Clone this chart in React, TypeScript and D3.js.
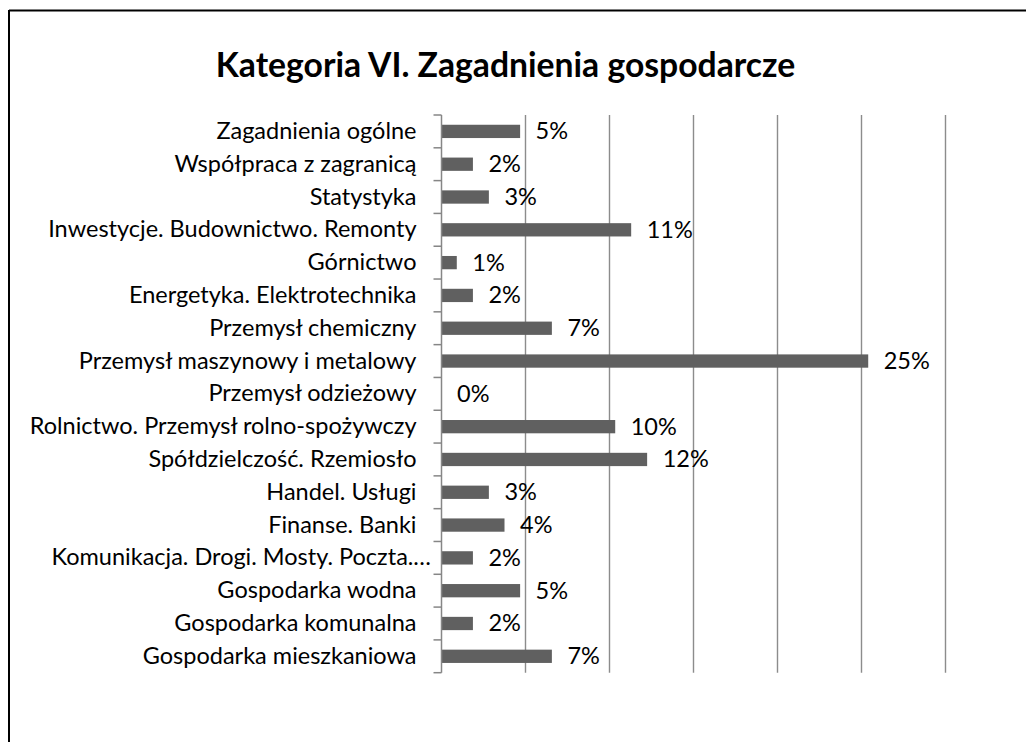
import React from "react";
import * as d3 from "d3";

const title = "Kategoria VI. Zagadnienia gospodarcze";

const categories = [
  "Zagadnienia ogólne",
  "Współpraca z zagranicą",
  "Statystyka",
  "Inwestycje. Budownictwo. Remonty",
  "Górnictwo",
  "Energetyka. Elektrotechnika",
  "Przemysł chemiczny",
  "Przemysł maszynowy i metalowy",
  "Przemysł odzieżowy",
  "Rolnictwo. Przemysł rolno-spożywczy",
  "Spółdzielczość. Rzemiosło",
  "Handel. Usługi",
  "Finanse. Banki",
  "Komunikacja. Drogi. Mosty. Poczta.…",
  "Gospodarka wodna",
  "Gospodarka komunalna",
  "Gospodarka mieszkaniowa",
];

const values = [
  0.0468, 0.0187, 0.0282, 0.1129, 0.0091, 0.0187, 0.0657, 0.254, 0,
  0.1034, 0.1224, 0.0282, 0.0375, 0.0187, 0.0468, 0.0187, 0.0657,
];

const xTicks = [0, 0.05, 0.1, 0.15, 0.2, 0.25, 0.3];

const W = 1026;
const H = 742;
const FONT = "Lato, 'Open Sans', sans-serif";

export default function App() {
  const x = d3.scaleLinear().domain([0, 0.3]).range([441.5, 945.5]);
  const y = d3.scaleBand<string>().domain(categories).range([115, 672.7]).padding(0);
  const bw = y.bandwidth();
  const barH = bw * 0.405;
  const fmt = d3.format(".0%");
  const boundaries = d3.range(categories.length + 1).map((i) => 115 + i * y.step());

  return (
    <svg
      width={W}
      height={H}
      style={{ position: "absolute", left: 0, top: 0, display: "block", background: "#fff" }}
    >
      <rect x={0} y={0} width={W} height={H} fill="#fff" />
      {/* chart frame */}
      <line x1={9} y1={10.5} x2={W + 5} y2={10.5} stroke="#000" strokeWidth={2} />
      <line x1={9} y1={10} x2={9} y2={H + 5} stroke="#000" strokeWidth={2} />

      <text
        x={505.5}
        y={77}
        textAnchor="middle"
        fontFamily={FONT}
        fontWeight="bold"
        fontSize={33.7}
        fill="#000"
      >
        {title}
      </text>

      {/* gridlines */}
      {xTicks.slice(1).map((t) => (
        <line
          key={t}
          x1={x(t)}
          x2={x(t)}
          y1={115}
          y2={672.7}
          stroke="#8c8c8c"
          strokeWidth={1.4}
        />
      ))}

      {/* bars */}
      {categories.map((c, i) => {
        const cy = (y(c) as number) + bw / 2;
        const truncated = c.endsWith("…");
        return (
          <g key={c}>
            {values[i] > 0 && (
              <rect
                x={x(0)}
                y={cy - barH / 2}
                width={x(values[i]) - x(0)}
                height={barH}
                fill="#606060"
              />
            )}
            <text
              x={x(values[i]) + 15.5}
              y={cy + 8}
              fontFamily={FONT}
              fontSize={23.5}
              fill="#000"
            >
              {fmt(values[i])}
            </text>
            <text
              x={truncated ? 431 : 416.5}
              y={cy + 7.5}
              textAnchor="end"
              fontFamily={FONT}
              fontSize={23.5}
              fill="#000"
            >
              {c}
            </text>
          </g>
        );
      })}

      {/* category axis */}
      <line x1={x(0)} x2={x(0)} y1={115} y2={672.7} stroke="#868686" strokeWidth={1.5} />
      {boundaries.map((b, i) => (
        <line key={i} x1={433.5} x2={x(0)} y1={b} y2={b} stroke="#868686" strokeWidth={1.5} />
      ))}
    </svg>
  );
}
